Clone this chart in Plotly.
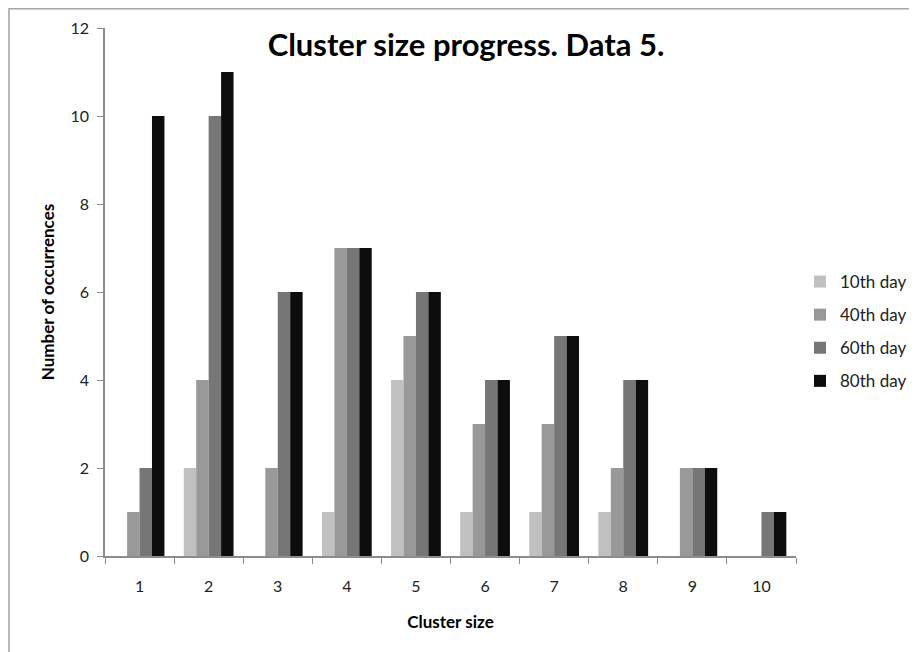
import plotly.graph_objects as go

categories = ["1", "2", "3", "4", "5", "6", "7", "8", "9", "10"]
series_names = ["10th day", "40th day", "60th day", "80th day"]
day10 = [0, 2, 0, 1, 4, 1, 1, 1, 0, 0]
day40 = [1, 4, 2, 7, 5, 3, 3, 2, 2, 0]
day60 = [2, 10, 6, 7, 6, 4, 5, 4, 2, 1]
day80 = [10, 11, 6, 7, 6, 4, 5, 4, 2, 1]
colors = ["#C0C0C0", "#999999", "#767676", "#0D0D0D"]
y_ticks = [0, 2, 4, 6, 8, 10, 12]

fig = go.Figure()
for i, (name, vals) in enumerate(zip(series_names, [day10, day40, day60, day80])):
    fig.add_trace(go.Bar(
        x=categories, y=vals, name=name, legendgroup=name,
        marker=dict(color=colors[i], line=dict(width=0)),
    ))

# page has an 8px body margin, so the figure is 8px smaller and shifted
W, H = 909, 644
l, t = 97, 20
plot_right, plot_bottom = 788, 548
r, b = W - plot_right, H - plot_bottom
pw, ph = W - l - r, H - t - b

def px(x):
    return (x - l) / pw

def py(y):
    return (plot_bottom - y) / ph

fig.update_layout(
    width=W, height=H,
    margin=dict(l=l, r=r, t=t, b=b, autoexpand=False),
    paper_bgcolor="white", plot_bgcolor="white",
    barmode="group", bargap=0.28, bargroupgap=0,
    font=dict(family="Lato, Open Sans, sans-serif", size=16, color="#222222"),
    title=dict(text="<b>Cluster size progress. Data 5.</b>",
               x=px(458), xref="paper", xanchor="center",
               y=1 - 37 / H, yanchor="middle",
               font=dict(size=31, color="#000000")),
    legend=dict(x=px(792), y=py(256), xanchor="left", yanchor="top",
                traceorder="grouped", tracegroupgap=8,
                font=dict(size=17, color="#222222"),
                itemwidth=30, bgcolor="rgba(0,0,0,0)"),
    xaxis=dict(type="category", showgrid=False, showline=True,
               linecolor="#8C8C8C", linewidth=1.5,
               ticks="outside", ticklen=6, tickcolor="#8C8C8C",
               tickson="boundaries", ticklabelstandoff=15,
               tickfont=dict(size=16),
               title=dict(text="<b>Cluster size</b>", standoff=22,
                          font=dict(size=17, color="#000000"))),
    yaxis=dict(range=[0, 12], tickvals=y_ticks, showgrid=False, showline=True,
               linecolor="#8C8C8C", linewidth=1.5, zeroline=False,
               ticks="outside", ticklen=6, tickcolor="#8C8C8C",
               ticklabelstandoff=5, tickfont=dict(size=16),
               title=dict(text="<b>Number of occurrences</b>", standoff=12,
                          font=dict(size=17, color="#000000"))),
    shapes=[dict(type="rect", xref="paper", yref="paper",
                 x0=px(1), x1=px(930), y0=py(0.8), y1=py(700),
                 line=dict(color="#A6A6A6", width=1.6), fillcolor="rgba(0,0,0,0)",
                 layer="below")],
)
fig.write_html("out.html")
